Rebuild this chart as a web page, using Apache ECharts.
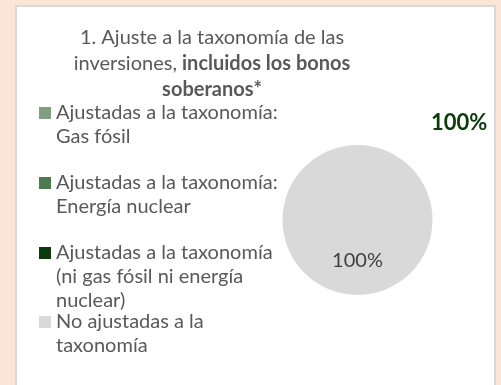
<!DOCTYPE html>
<html>
<head>
<meta charset="utf-8">
<script src="https://cdn.jsdelivr.net/npm/echarts@6/dist/echarts.min.js"></script>
<style>
  html, body { margin: 0; padding: 0; background: #FBE5D6; }
  #chart { width: 501px; height: 385px; }
</style>
</head>
<body>
<div id="chart"></div>
<script>
// Taxonomy alignment of investments, including sovereign bonds
const categories = [
  'Ajustadas a la taxonomía:\nGas fósil',
  'Ajustadas a la taxonomía:\nEnergía nuclear',
  'Ajustadas a la taxonomía\n(ni gas fósil ni energía\nnuclear)',
  'No ajustadas a la\ntaxonomía'
];
const shares = [0, 0, 0, 100];
const colors = ['#7F9F80', '#4E7A50', '#0B3B0B', '#D9D9D9'];
const alignedTotalLabel = '100%';

const FONT = 'Lato, sans-serif';
const TEXT = '#595959';
const LINE = 24;

// Square icon sitting at the first text line; tiny invisible corners set the box height
function iconFor(lines) {
  const h = lines * LINE;
  return 'path://M0,0L0.001,0L0,0.001Z M0,6L12,6L12,18L0,18Z M0,' + (h - 0.001) + 'L0.001,' + h + 'L0,' + h + 'Z';
}

const firstLineY = [113, 183, 253, 322];
const legends = categories.map((name, i) => {
  const lines = name.split('\n').length;
  return {
    data: [{ name: name, icon: iconFor(lines) }],
    left: 39,
    top: firstLineY[i] - 12,
    padding: 0,
    orient: 'vertical',
    itemWidth: 12,
    itemHeight: lines * LINE,
    itemGap: 5,
    selectedMode: false,
    textStyle: { fontFamily: FONT, fontSize: 20, color: TEXT, lineHeight: LINE }
  };
});

const chart = echarts.init(document.getElementById('chart'), null, { renderer: 'canvas' });
chart.setOption({
  backgroundColor: '#FBE5D6',
  animation: false,
  graphic: [
    {
      type: 'rect', z: -10,
      shape: { x: 16, y: 6, width: 479, height: 390 },
      style: { fill: '#FFFFFF', stroke: '#D9D9D9', lineWidth: 2 }
    },
    {
      type: 'text', left: 431, top: 112,
      style: {
        text: alignedTotalLabel, fill: '#0B3B0B',
        font: 'bold 22px ' + FONT
      }
    }
  ],
  title: {
    text: '1. Ajuste a la taxonomía de las\ninversiones, {b|incluidos los bonos}\n{b|soberanos*}',
    left: 212, top: 25, textAlign: 'center', padding: 0,
    textStyle: {
      fontFamily: FONT, fontSize: 20, fontWeight: 'normal', color: TEXT, lineHeight: 26,
      rich: { b: { fontFamily: FONT, fontSize: 20, fontWeight: 'bold', color: TEXT, lineHeight: 26 } }
    }
  },
  legend: legends,
  series: [{
    type: 'pie',
    center: [357.5, 220],
    radius: [0, 75],
    startAngle: 90,
    clockwise: true,
    silent: true,
    itemStyle: { borderWidth: 0 },
    label: {
      position: 'inside',
      fontFamily: FONT, fontSize: 20, color: '#404040',
      formatter: p => (p.value > 0 ? p.percent.toFixed(0) + '%' : '')
    },
    labelLine: { show: false },
    data: categories.map((name, i) => ({ name: name, value: shares[i], itemStyle: { color: colors[i] } }))
  }]
});
</script>
</body>
</html>
